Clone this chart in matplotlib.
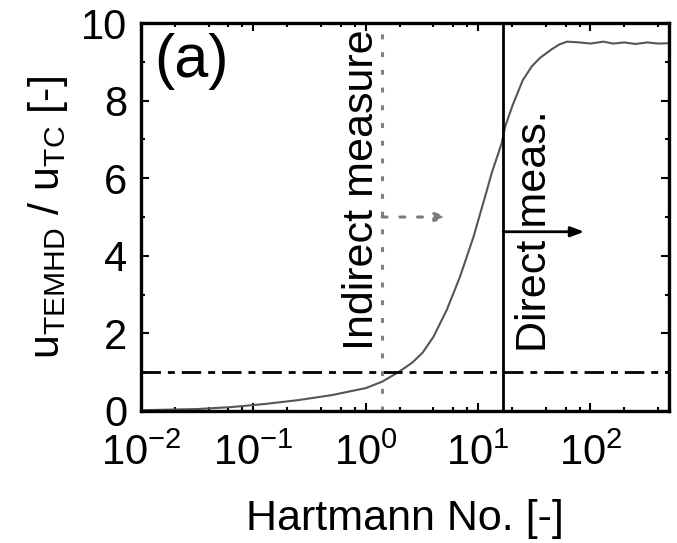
import math

import matplotlib

matplotlib.use("Agg")

import matplotlib.pyplot as plt
from matplotlib.ticker import LogLocator, MultipleLocator, NullFormatter, FuncFormatter


# ============================================================
# DATI
# ============================================================

hartmann = [
    0.01, 0.0316, 0.063, 0.126, 0.25, 0.5, 1.0, 1.41, 2.0, 2.6, 3.2,
    4.0, 5.25, 6.9, 9.1, 12.0, 13.2, 16.2, 17.4, 20.4, 25.0, 30.0,
    35.5, 45.0, 53.0, 62.0, 80.0, 100.0, 130.0, 160.0, 200.0, 250.0,
    320.0, 400.0, 500.0,
]
u_ratio = [
    0.02, 0.05, 0.10, 0.18, 0.28, 0.41, 0.59, 0.76, 1.02, 1.25, 1.50,
    1.91, 2.60, 3.46, 4.49, 5.70, 6.13, 6.90, 7.33, 7.90, 8.53, 8.88,
    9.10, 9.32, 9.45, 9.52, 9.50, 9.47, 9.52, 9.47, 9.50, 9.46, 9.50,
    9.47, 9.48,
]

x_limits = [0.01, 500]
y_limits = [0, 10]

unity_ratio = 1.0
indirect_limit = 1.4
direct_limit = 16.7

indirect_arrow = [1.4, 5.4]
indirect_arrow_y = 5.0
direct_arrow = [16.7, 88.0]
direct_arrow_y = 4.62

indirect_label = [1.15, 5.70]
direct_label = [40.5, 4.64]


# ============================================================
# STILE
# ============================================================

plt.rcParams["font.family"] = ["Liberation Sans", "DejaVu Sans"]
plt.rcParams["mathtext.fontset"] = "custom"
plt.rcParams["mathtext.rm"] = "Liberation Sans"
plt.rcParams["mathtext.it"] = "Liberation Sans:italic"
plt.rcParams["mathtext.bf"] = "Liberation Sans:bold"


# ============================================================
# GRAFICO
# ============================================================

fig = plt.figure(figsize=(6.77, 5.43), dpi=100)
ax = fig.add_axes([0.2083, 0.2431, 0.7799, 0.7145])

ax.plot(hartmann, u_ratio, color="#555555", linewidth=1.5)

ax.axhline(
    unity_ratio,
    color="black",
    linewidth=2,
    linestyle=(0, (7, 2.5, 2.5, 2.5)),
)
ax.axvline(
    indirect_limit,
    color="#808080",
    linewidth=2.2,
    linestyle=(0, (1.6, 4.2)),
)
ax.axvline(direct_limit, color="black", linewidth=2)

ax.annotate(
    "",
    xy=(indirect_arrow[1], indirect_arrow_y),
    xytext=(indirect_arrow[0], indirect_arrow_y),
    arrowprops=dict(
        arrowstyle="-|>,head_length=0.7,head_width=0.25",
        color="#7a7a7a",
        linewidth=2.2,
        linestyle=(0, (1.6, 4.2)),
        shrinkA=0,
        shrinkB=0,
    ),
)
ax.annotate(
    "",
    xy=(direct_arrow[1], direct_arrow_y),
    xytext=(direct_arrow[0], direct_arrow_y),
    arrowprops=dict(
        arrowstyle="-|>,head_length=0.8,head_width=0.3",
        color="black",
        linewidth=2,
        shrinkA=0,
        shrinkB=0,
    ),
)

ax.text(
    indirect_label[0],
    indirect_label[1],
    "Indirect measure",
    rotation=90,
    rotation_mode="anchor",
    ha="center",
    va="baseline",
    fontsize=31,
)
ax.text(
    direct_label[0],
    direct_label[1],
    "Direct meas.",
    rotation=90,
    rotation_mode="anchor",
    ha="center",
    va="baseline",
    fontsize=31,
)
ax.text(
    0.025,
    0.975,
    "(a)",
    transform=ax.transAxes,
    ha="left",
    va="top",
    fontsize=44,
)

# assi
ax.set_xscale("log")
ax.set_xlim(x_limits)
ax.set_ylim(y_limits)

ax.xaxis.set_major_locator(LogLocator(base=10, numticks=12))
ax.xaxis.set_minor_locator(LogLocator(base=10, subs=(2, 4, 6, 8), numticks=12))
ax.xaxis.set_minor_formatter(NullFormatter())
ax.xaxis.set_major_formatter(
    FuncFormatter(lambda value, pos: r"$\mathregular{10^{%d}}$" % round(math.log10(value)))
)
ax.yaxis.set_major_locator(MultipleLocator(2))
ax.yaxis.set_minor_locator(MultipleLocator(1))

ax.tick_params(which="both", direction="in", top=True, right=True, width=1.5, labelsize=30)
ax.tick_params(which="major", length=6)
ax.tick_params(which="minor", length=3)
ax.tick_params(axis="x", pad=16)
ax.tick_params(axis="y", pad=10)

for spine in ax.spines.values():
    spine.set_linewidth(2.4)

ax.set_xlabel("Hartmann No. [-]", fontsize=31, labelpad=18)
ax.set_ylabel(r"u$_{\mathregular{TEMHD}}$ / u$_{\mathregular{TC}}$ [-]", fontsize=31)
ax.yaxis.set_label_coords(-0.135, 0.5)

fig.savefig("out.png", dpi=100)
